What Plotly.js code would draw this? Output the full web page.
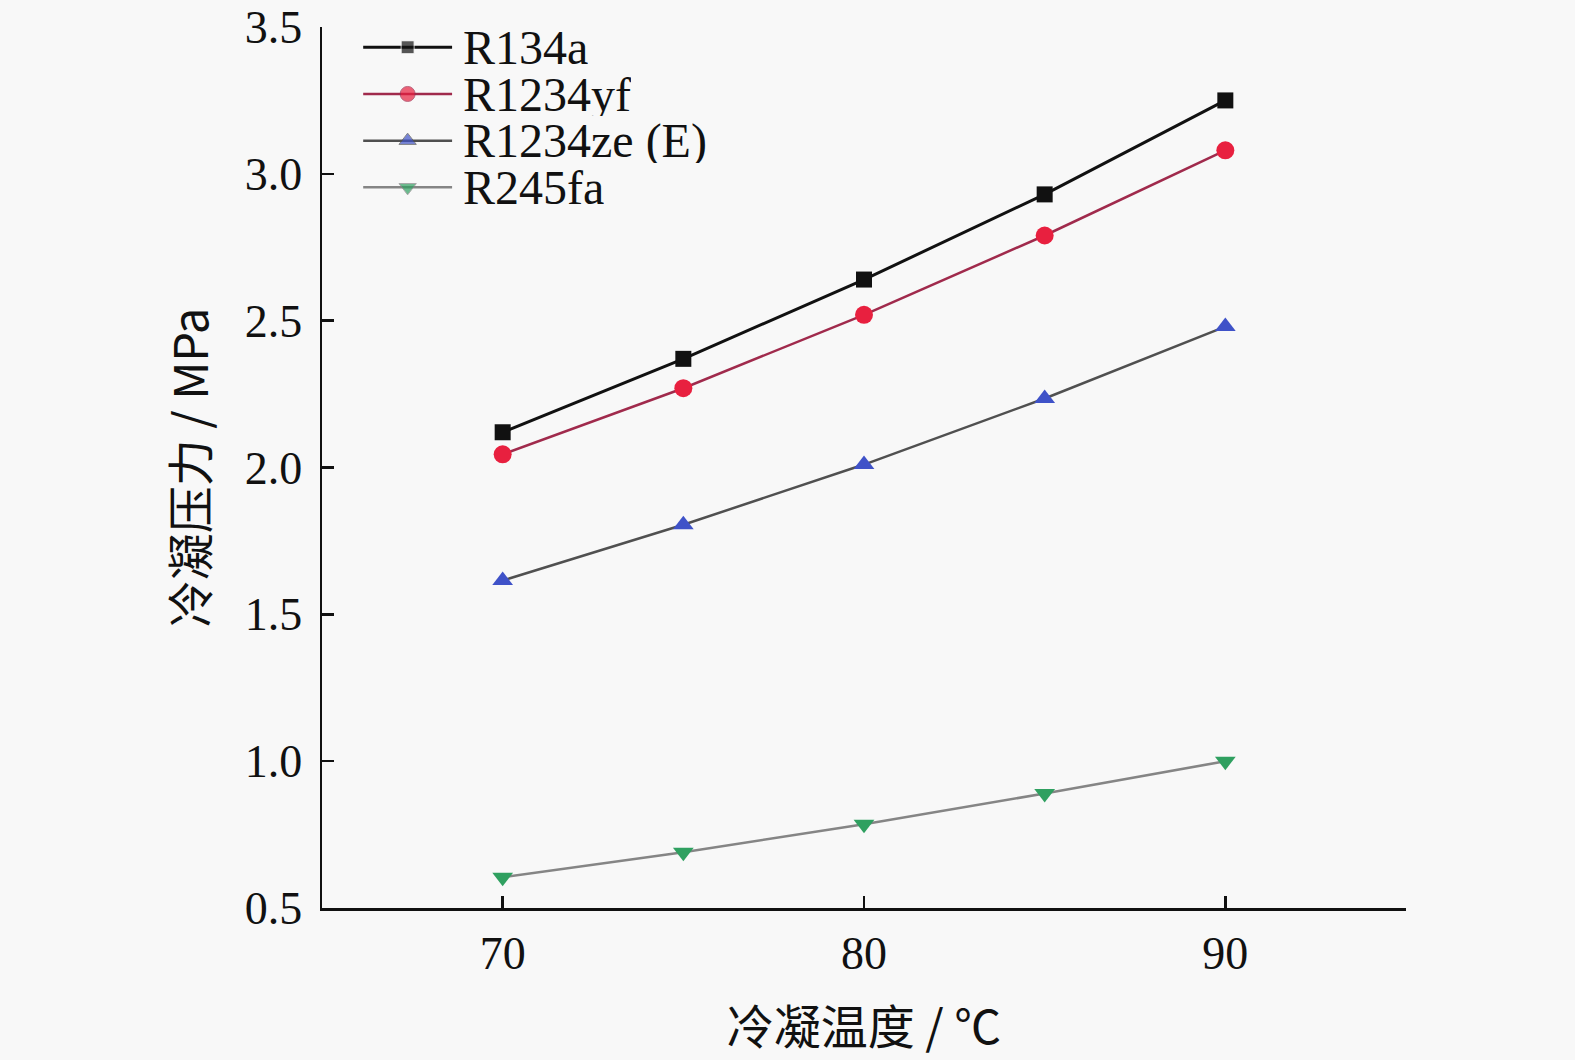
<!DOCTYPE html>
<html>
<head>
<meta charset="utf-8">
<script src="https://cdn.plot.ly/plotly-3.0.1.min.js"></script>
<style>html,body{margin:0;padding:0;background:#f8f8f8;}#chart{width:1575px;height:1060px;}</style>
</head>
<body>
<div id="chart"></div>
<script>
const temps = [70, 75, 80, 85, 90];
const r134a = [2.12, 2.37, 2.64, 2.93, 3.25];
const r1234yf = [2.045, 2.27, 2.52, 2.79, 3.08];
const r1234ze = [1.615, 1.805, 2.01, 2.235, 2.48];
const r245fa = [0.605, 0.69, 0.785, 0.89, 1.0];
const seriesNames = ['R134a', 'R1234yf', 'R1234ze (E)', 'R245fa'];
const seriesValues = [r134a, r1234yf, r1234ze, r245fa];
const xTicks = [70, 80, 90];
const yTicks = [0.5, 1.0, 1.5, 2.0, 2.5, 3.0, 3.5];
const yTickText = ['0.5', '1.0', '1.5', '2.0', '2.5', '3.0', '3.5'];

const styles = [
  {line: {color: '#111111', width: 3}, marker: {symbol: 'square', size: 16, color: '#111111'}},
  {line: {color: '#a02a4c', width: 2.5}, marker: {symbol: 'circle', size: 18, color: '#e8203f'}},
  {line: {color: '#505050', width: 2.5}, marker: {symbol: 'triangle-up', size: 18, color: '#3f52c8'}},
  {line: {color: '#858585', width: 2.5}, marker: {symbol: 'triangle-down', size: 18, color: '#2fa060'}}
];

const traces = [];
seriesValues.forEach((vals, i) => {
  traces.push({x: temps, y: vals, name: seriesNames[i], mode: 'lines+markers',
    line: styles[i].line, marker: styles[i].marker, showlegend: false, cliponaxis: false});
});

// Custom legend drawn on a hidden overlay axis (0..1 fraction of the plot area)
const legendLayout = {x0: 0.038, x1: 0.120, textX: 0.129, yTop: 0.977, rowStep: 0.0530};
const annotations = [];
seriesNames.forEach((name, i) => {
  const yy = legendLayout.yTop - i * legendLayout.rowStep;
  const xm = (legendLayout.x0 + legendLayout.x1) / 2;
  traces.push({x: [legendLayout.x0, xm, legendLayout.x1], y: [yy, yy, yy], xaxis: 'x2', yaxis: 'y2',
    mode: 'lines+markers', showlegend: false, hoverinfo: 'skip', cliponaxis: false,
    line: styles[i].line,
    marker: Object.assign({}, styles[i].marker, {size: [0, styles[i].marker.size - 3, 0]})});
  annotations.push({x: legendLayout.textX, y: yy, xref: 'x2', yref: 'y2', text: name, showarrow: false,
    xanchor: 'left', yanchor: 'middle', height: 44, valign: 'middle', borderpad: 0,
    font: {size: 48, family: 'Liberation Serif, serif', color: '#111'}});
});

const layout = {
  width: 1575, height: 1060,
  paper_bgcolor: '#f8f8f8', plot_bgcolor: '#f8f8f8',
  margin: {l: 322, r: 169, t: 27, b: 152},
  font: {family: 'Liberation Serif, Times New Roman, serif', color: '#111'},
  showlegend: false,
  annotations: annotations,
  xaxis: {
    range: [65, 95], tickvals: xTicks, ticks: 'inside', ticklen: 12, tickwidth: 2.5,
    tickcolor: '#111', showline: true, linecolor: '#111', linewidth: 2.5, showgrid: false,
    zeroline: false, mirror: false, tickfont: {size: 46}, ticklabelstandoff: 3,
    title: {text: '冷凝温度 / ℃', font: {size: 47, family: 'Noto Sans CJK SC, Liberation Serif, serif'}, standoff: 34}
  },
  yaxis: {
    range: [0.5, 3.5], tickvals: yTicks, ticktext: yTickText,
    ticks: 'inside', ticklen: 12, tickwidth: 2.5, tickcolor: '#111',
    showline: true, linecolor: '#111', linewidth: 2.5, showgrid: false, zeroline: false,
    tickfont: {size: 46}, ticklabelstandoff: 8,
    title: {text: '冷凝压力 / MPa', font: {size: 47, family: 'Noto Sans CJK SC, Liberation Serif, serif'}, standoff: 22}
  },
  xaxis2: {overlaying: 'x', range: [0, 1], visible: false, fixedrange: true},
  yaxis2: {overlaying: 'y', range: [0, 1], visible: false, fixedrange: true}
};

Plotly.newPlot('chart', traces, layout, {displayModeBar: false, staticPlot: true});
</script>
</body>
</html>
